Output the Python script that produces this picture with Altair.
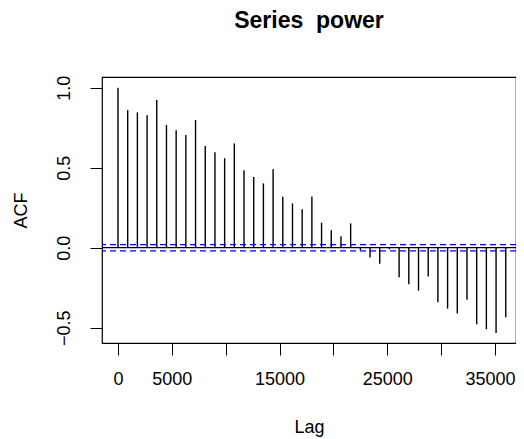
import altair as alt
import pandas as pd

lag_step = 900
acf_values = [1.00, 0.86, 0.846, 0.828, 0.923, 0.767, 0.734, 0.704, 0.798, 0.636,
              0.596, 0.559, 0.652, 0.484, 0.442, 0.402, 0.49, 0.319, 0.277, 0.24,
              0.32, 0.156, 0.109, 0.071, 0.152, -0.015, -0.062, -0.10, -0.01, -0.185,
              -0.229, -0.269, -0.181, -0.341, -0.381, -0.412, -0.325, -0.479, -0.51, -0.533,
              -0.435]
lags = [i * lag_step for i in range(len(acf_values))]
ci_bounds = [0.0195, -0.0195]
x_ticks = [0, 5000, 10000, 15000, 20000, 25000, 30000, 35000]
x_shown = [0, 5000, 15000, 25000, 35000]
y_ticks = [-0.5, 0.0, 0.5, 1.0]

df = pd.DataFrame({"lag": lags, "acf": acf_values, "zero": [0.0] * len(lags)})
ci_df = pd.DataFrame({"ci": ci_bounds})
zero_df = pd.DataFrame({"z": [0.0]})

FONT = "Liberation Sans"
shown_expr = "indexof([" + ",".join(str(v) for v in x_shown) + "], datum.value) >= 0 ? datum.label : ''"

xscale = alt.Scale(domain=[-1485, 36951], nice=False, zero=False)
yscale = alt.Scale(domain=[-0.596, 1.067], nice=False, zero=False)

xaxis = alt.Axis(title="Lag", values=x_ticks, labelExpr=shown_expr, format="d",
                 domain=False, grid=False, tickSize=12, tickColor="black", tickWidth=1,
                 labelFont=FONT, labelFontSize=18, labelColor="black", labelPadding=15,
                 labelOffset={"condition": {"test": "datum.value == 35000", "value": -5}, "value": 0},
                 labelFlush=False, labelOverlap=False,
                 titleFont=FONT, titleFontSize=18, titleFontWeight="normal", titleColor="black",
                 titlePadding=30)
yaxis = alt.Axis(title="ACF", values=y_ticks, format=".1f", domain=False, grid=False,
                 tickSize=12, tickColor="black", tickWidth=1,
                 labelFont=FONT, labelFontSize=18, labelColor="black", labelAngle=-90,
                 labelAlign="center", labelBaseline="bottom", labelPadding=17,
                 labelFlush=False, labelOverlap=False,
                 titleFont=FONT, titleFontSize=18, titleFontWeight="normal", titleColor="black",
                 titlePadding=25)

bars = alt.Chart(df).mark_rule(color="black", strokeWidth=1.4).encode(
    x=alt.X("lag:Q", scale=xscale, axis=xaxis),
    y=alt.Y("zero:Q", scale=yscale, axis=yaxis),
    y2="acf:Q",
)

zero_line = alt.Chart(zero_df).mark_rule(color="black", strokeWidth=1.3).encode(
    y=alt.Y("z:Q", scale=yscale)
)

ci_lines = alt.Chart(ci_df).mark_rule(color="#0000FF", strokeWidth=1.3, strokeDash=[6, 4]).encode(
    y=alt.Y("ci:Q", scale=yscale)
)

chart = alt.layer(bars, zero_line, ci_lines).properties(
    width=414,
    height=266,
    title=alt.TitleParams("Series\u00a0\u00a0power", font=FONT, fontSize=23, fontWeight="bold",
                          color="black", anchor="middle", offset=42),
    autosize=alt.AutoSizeParams(type="none"),
    padding={"left": 94, "top": 69, "right": 0, "bottom": 100},
    background="white",
).configure_view(stroke="black", strokeWidth=1.2)

chart.save("out.html", embed_options={"renderer": "svg", "actions": False})
